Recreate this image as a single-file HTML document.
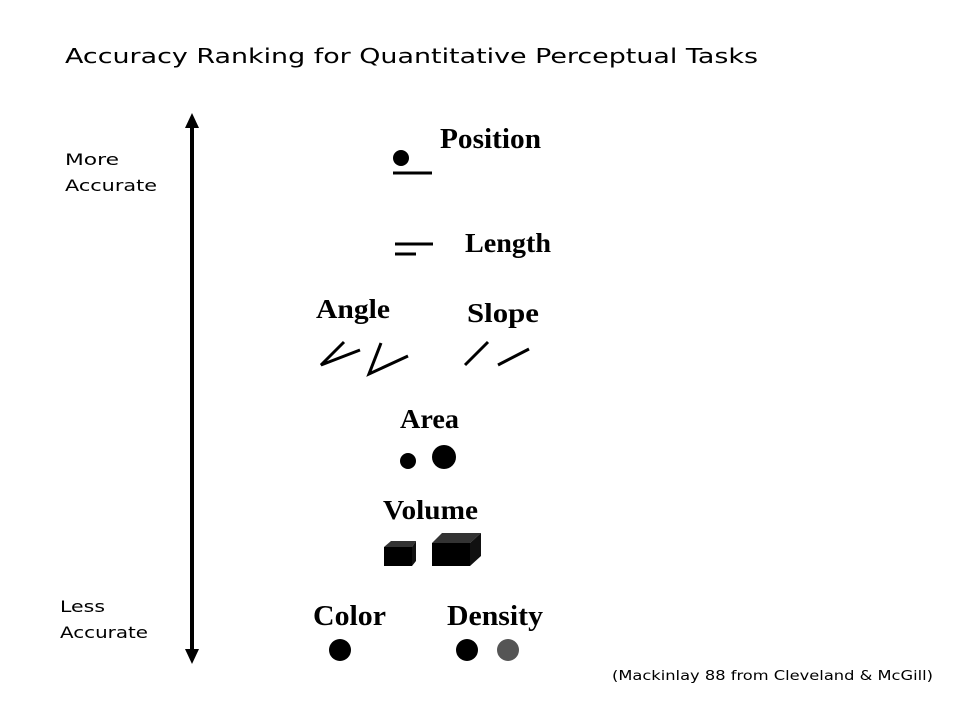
<!DOCTYPE html>
<html><head><meta charset="utf-8"><style>
body{margin:0;background:#fff;width:960px;height:720px;overflow:hidden}
svg{display:block}
.s{font-family:"DejaVu Sans","Liberation Sans",sans-serif;fill:#000}
.r{font-family:"Liberation Serif",serif;fill:#000;font-weight:bold}
</style></head><body>
<svg width="960" height="720" viewBox="0 0 960 720">
<text class="s" x="65" y="63" font-size="20" textLength="693" lengthAdjust="spacingAndGlyphs">Accuracy Ranking for Quantitative Perceptual Tasks</text>
<g>
<line x1="192" y1="125" x2="192" y2="652" stroke="#000" stroke-width="4"/>
<polygon points="192,113 185,128 199,128" fill="#000"/>
<polygon points="192,664 185,649 199,649" fill="#000"/>
</g>
<text class="s" font-size="16"><tspan x="65" y="165" textLength="54" lengthAdjust="spacingAndGlyphs">More</tspan><tspan x="65" y="191" textLength="92" lengthAdjust="spacingAndGlyphs">Accurate</tspan></text>
<text class="s" font-size="16"><tspan x="60" y="612" textLength="45" lengthAdjust="spacingAndGlyphs">Less</tspan><tspan x="60" y="638" textLength="88" lengthAdjust="spacingAndGlyphs">Accurate</tspan></text>
<g>
<text class="r" x="440" y="148" font-size="29" textLength="101" lengthAdjust="spacingAndGlyphs">Position</text>
<circle cx="401" cy="158" r="8" fill="#000"/>
<line x1="393" y1="173" x2="432" y2="173" stroke="#000" stroke-width="3"/>
</g>
<g>
<text class="r" x="465" y="252" font-size="27" textLength="86" lengthAdjust="spacingAndGlyphs">Length</text>
<line x1="395" y1="244" x2="433" y2="244" stroke="#000" stroke-width="3"/>
<line x1="395" y1="254" x2="416" y2="254" stroke="#000" stroke-width="3"/>
</g>
<g stroke="#000" stroke-width="3" fill="none">
<text class="r" x="316" y="318" font-size="27" stroke="none" textLength="74" lengthAdjust="spacingAndGlyphs">Angle</text>
<polyline points="344,342 321,365 360,350"/>
<polyline points="381,343 369,374 408,356"/>
</g>
<g stroke="#000" stroke-width="3">
<text class="r" x="467" y="322" font-size="27" stroke="none" textLength="72" lengthAdjust="spacingAndGlyphs">Slope</text>
<line x1="465" y1="365" x2="488" y2="342"/>
<line x1="498" y1="365" x2="529" y2="349"/>
</g>
<g>
<text class="r" x="400" y="428" font-size="27" textLength="59" lengthAdjust="spacingAndGlyphs">Area</text>
<circle cx="408" cy="461" r="8" fill="#000"/>
<circle cx="444" cy="457" r="12" fill="#000"/>
</g>
<g>
<text class="r" x="383" y="519" font-size="27" textLength="95" lengthAdjust="spacingAndGlyphs">Volume</text>
<polygon points="384,547 391,541 416,541 412,547" fill="#333"/>
<polygon points="412,547 416,541 416,561 412,566" fill="#111"/>
<rect x="384" y="547" width="28" height="19" fill="#000"/>
<polygon points="432,543 442,533 481,533 470,543" fill="#333"/>
<polygon points="470,543 481,533 481,556 470,566" fill="#111"/>
<rect x="432" y="543" width="38" height="23" fill="#000"/>
</g>
<g>
<text class="r" x="313" y="625" font-size="29" textLength="73" lengthAdjust="spacingAndGlyphs">Color</text>
<circle cx="340" cy="650" r="11" fill="#000"/>
</g>
<g>
<text class="r" x="447" y="625" font-size="29" textLength="96" lengthAdjust="spacingAndGlyphs">Density</text>
<circle cx="467" cy="650" r="11" fill="#000"/>
<circle cx="508" cy="650" r="11" fill="#555"/>
</g>
<text class="s" x="612" y="680" font-size="13" textLength="321" lengthAdjust="spacingAndGlyphs">(Mackinlay 88 from Cleveland &amp; McGill)</text>
</svg>
</body></html>
